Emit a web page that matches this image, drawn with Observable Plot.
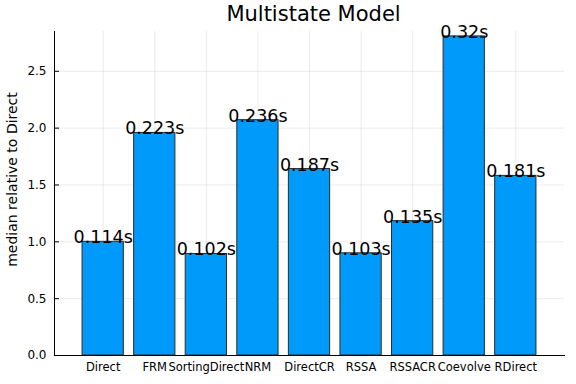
<!DOCTYPE html>
<html>
<head>
<meta charset="utf-8">
<script src="https://cdn.jsdelivr.net/npm/d3@7"></script>
<script src="https://cdn.jsdelivr.net/npm/@observablehq/plot@0.6"></script>
<style>
  html, body { margin: 0; padding: 0; background: #fff; }
</style>
</head>
<body>
<div id="chart"></div>
<script>
const categories = ["Direct", "FRM", "SortingDirect", "NRM", "DirectCR", "RSSA", "RSSACR", "Coevolve", "RDirect"];
const relative = [1.0, 1.958, 0.893, 2.07, 1.64, 0.899, 1.182, 2.807, 1.58];
const timeLabels = ["0.114s", "0.223s", "0.102s", "0.236s", "0.187s", "0.103s", "0.135s", "0.32s", "0.181s"];
const yTicks = [0, 0.5, 1.0, 1.5, 2.0, 2.5];
const title = "Multistate Model";
const yLabel = "median relative to Direct";

const data = categories.map((c, i) => ({cat: c, val: relative[i], lab: timeLabels[i]}));

const chart = Plot.plot({
  width: 576,
  height: 384,
  marginTop: 31,
  marginBottom: 29,
  marginLeft: 54,
  marginRight: 12,
  style: {fontFamily: "DejaVu Sans", fontSize: "12px", color: "#000", background: "#fff"},
  x: {type: "band", domain: categories, paddingInner: 0.2, paddingOuter: 0.544, align: 0.5, round: false},
  y: {domain: [0, 2.85]},
  marks: [
    Plot.gridX(categories, {stroke: "#000", strokeOpacity: 0.08, strokeWidth: 1}),
    Plot.gridY(yTicks, {stroke: "#000", strokeOpacity: 0.08, strokeWidth: 1}),
    Plot.barY(data, {x: "cat", y: "val", fill: "#009afa", stroke: "#2a2a2a", strokeWidth: 1, insetLeft: 0, insetRight: 0}),
    Plot.text(data, {x: "cat", y: "val", text: "lab", lineAnchor: "bottom", dy: 1.5, fontSize: 17.5, fill: "#000"}),
    Plot.axisY(yTicks, {tickFormat: d3.format(".1f"), tickSize: -5, tickPadding: 13, label: null, fontSize: 12}),
    Plot.axisX({tickSize: 0, tickPadding: 7.5, label: null, fontSize: 11.5}),
    Plot.frame({anchor: "left", stroke: "#000"}),
    Plot.frame({anchor: "bottom", stroke: "#000"}),
    Plot.text([title], {frameAnchor: "top", lineAnchor: "bottom", dy: -10.5, dx: 4, fontSize: 21, fill: "#000"}),
    Plot.text([yLabel], {frameAnchor: "left", textAnchor: "middle", rotate: -90, dx: -42, dy: -14, fontSize: 14, fill: "#000"})
  ]
});
document.getElementById("chart").appendChild(chart);
</script>
</body>
</html>
